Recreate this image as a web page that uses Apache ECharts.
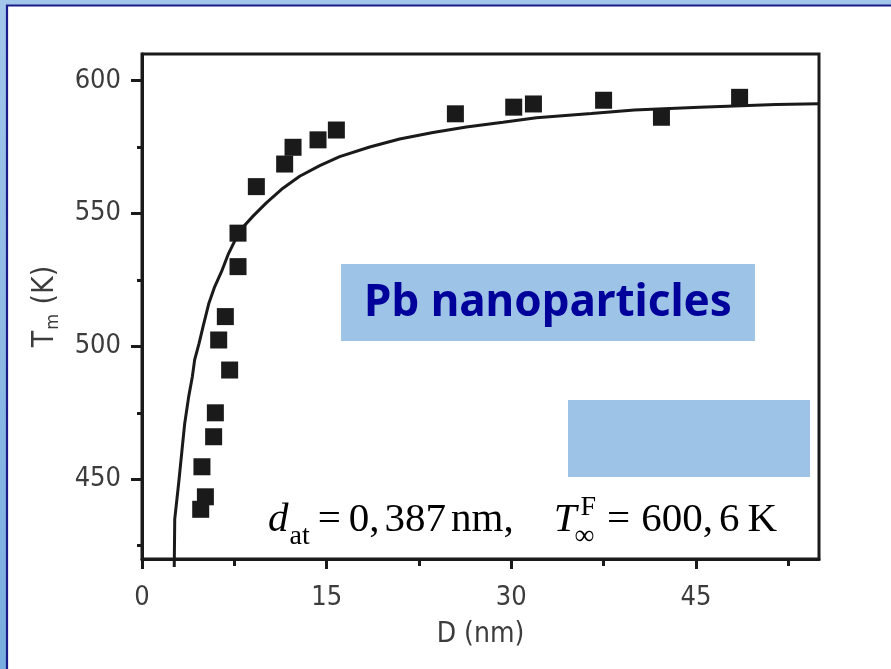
<!DOCTYPE html>
<html>
<head>
<meta charset="utf-8">
<script src="https://cdn.jsdelivr.net/npm/echarts@6/dist/echarts.min.js"></script>
<style>
  html, body { margin: 0; padding: 0; background: #ffffff; }
  #chart { width: 891px; height: 669px; }
</style>
</head>
<body>
<div id="chart"></div>
<script>
// Measured Pb particles: diameter D (nm) and melting temperature Tm (K)
const diameterNm = [4.77, 5.15, 4.87, 5.82, 5.96, 7.12, 6.23, 6.77, 7.8, 7.8, 9.29,
                    11.59, 12.27, 14.3, 15.79, 25.46, 30.2, 31.8, 37.5, 42.2, 48.55];
const meltingK   = [438.7, 443.4, 454.7, 466, 475, 491.1, 502.4, 511.2, 530, 542.6, 560.1,
                    568.6, 574.9, 577.7, 581.4, 587.5, 590, 591.2, 592.6, 586.2, 593.7];

// Fitted size-dependence curve
const fitDiameterNm = [2.62, 2.66, 2.98, 3.25, 3.47, 3.79, 4.09, 4.28, 4.63, 4.96, 5.42,
                       5.91, 6.45, 6.99, 7.94, 9.02, 10.1, 11.45, 12.81, 14.44, 16.06,
                       18.5, 20.93, 23.64, 26.35, 29.33, 32.04, 36.5, 40, 45.3, 51.5, 55];
const fitMeltingK   = [417, 435, 448.6, 461, 471, 481, 488.6, 495, 501, 507.4, 516,
                       522.5, 528, 534.5, 543.5, 549, 554, 559.5, 564, 568, 571.4,
                       575, 578, 580.5, 582.5, 584.3, 586, 587.6, 588.9, 590, 591, 591.3];

// Axis ticks
const xMajorTicks = [0, 15, 30, 45];
const xMinorTicks = [7.5, 22.5, 37.5, 52.5];
const yMajorTicks = [450, 500, 550, 600];
const yMinorTicks = [425, 475, 525, 575];

const titleText = 'Pb nanoparticles';

const INK = '#1a1a1a';
const LABEL = '#3c3c3c';
const NARROW = "'Liberation Sans Narrow', 'DejaVu Sans Condensed', 'Liberation Sans', Arial, sans-serif";
const SERIF = "'Liberation Serif', 'Times New Roman', serif";
const BOX = '#9dc3e6';

const chart = echarts.init(document.getElementById('chart'), null, { renderer: 'canvas' });

// --- formula text laid out run by run (sub/superscripts placed by hand) ---
const measureCtx = document.createElement('canvas').getContext('2d');
function textWidth(t, font) { measureCtx.font = font; return measureCtx.measureText(t).width; }

function formulaElements(startX, baseline) {
  const big = 41, small = 28;
  const runs = [
    { t: 'd', size: big, italic: true },
    { t: 'at', size: small, dy: 10, dx: 1 },
    { gap: 8 },
    { t: '=', size: big },
    { gap: 8 },
    { t: '0,', size: big },
    { gap: 5 },
    { t: '387', size: big },
    { gap: 5 },
    { t: 'nm,', size: big },
    { gap: 40 },
    { t: 'T', size: big, italic: true },
    { t: 'F', size: small, dy: -19, dx: 4, stackWith: '\u221e', stackDy: 10, stackDx: -2 },
    { gap: 11 },
    { t: '=', size: big },
    { gap: 11 },
    { t: '600,', size: big },
    { gap: 6 },
    { t: '6', size: big },
    { gap: 8 },
    { t: 'K', size: big }
  ];
  const els = [];
  let x = startX;
  runs.forEach(r => {
    if (r.gap) { x += r.gap; return; }
    const font = (r.italic ? 'italic ' : '') + r.size + 'px ' + SERIF;
    const w = textWidth(r.t, font);
    const mk = (txt, dy, xx) => ({
      type: 'text', z: 50, x: xx, y: baseline + (dy || 0),
      style: { text: txt, font: font, fill: '#000000', textAlign: 'left', textVerticalAlign: 'bottom' }
    });
    const dx = r.dx || 0;
    els.push(mk(r.t, r.dy, x + dx));
    let adv = w + dx;
    if (r.stackWith) {
      const sdx = r.stackDx || 0;
      const w2 = textWidth(r.stackWith, font);
      els.push(mk(r.stackWith, r.stackDy, x + sdx));
      adv = Math.max(w + dx, w2 + sdx);
    }
    x += adv;
  });
  return els;
}

const option = {
  backgroundColor: {
    type: 'linear', x: 0, y: 0, x2: 0, y2: 1,
    colorStops: [{ offset: 0, color: '#a3c7ea' }, { offset: 1, color: '#79addf' }]
  },
  animation: false,
  grid: {
    left: 142, top: 54, right: 72, bottom: 110,
    show: true, borderColor: INK, borderWidth: 3, backgroundColor: 'transparent'
  },
  xAxis: [
    {
      type: 'value', min: 0, max: 55,
      name: 'D (nm)', nameLocation: 'middle', nameGap: 62,
      nameTextStyle: { fontFamily: NARROW, fontSize: 28, color: LABEL },
      axisLine: { show: true, lineStyle: { color: INK, width: 3 } },
      axisTick: { show: true, inside: false, length: 10, customValues: xMajorTicks,
                  lineStyle: { color: INK, width: 3 } },
      axisLabel: { show: true, customValues: xMajorTicks, margin: 25,
                   fontFamily: NARROW, fontSize: 27, color: LABEL },
      splitLine: { show: false }
    },
    {
      type: 'value', min: 0, max: 55, position: 'bottom',
      axisLine: { show: false },
      axisTick: { show: true, inside: false, length: 7, customValues: xMinorTicks,
                  lineStyle: { color: INK, width: 3 } },
      axisLabel: { show: false },
      splitLine: { show: false }
    }
  ],
  yAxis: [
    {
      type: 'value', min: 420, max: 610,
      name: '{t|T}{s|m}{t| (K)}', nameLocation: 'middle', nameRotate: 90, nameGap: 80,
      nameTextStyle: {
        rich: {
          t: { fontFamily: NARROW, fontSize: 30, color: LABEL, lineHeight: 34, verticalAlign: 'middle' },
          s: { fontFamily: NARROW, fontSize: 18, color: LABEL, lineHeight: 34, verticalAlign: 'bottom', padding: [0, 1, 0, 1] }
        }
      },
      axisLine: { show: true, lineStyle: { color: INK, width: 3 } },
      axisTick: { show: true, inside: false, length: 11, customValues: yMajorTicks,
                  lineStyle: { color: INK, width: 3 } },
      axisLabel: { show: true, customValues: yMajorTicks, margin: 21,
                   fontFamily: NARROW, fontSize: 27, color: LABEL },
      splitLine: { show: false }
    },
    {
      type: 'value', min: 420, max: 610, position: 'left',
      axisLine: { show: false },
      axisTick: { show: true, inside: false, length: 5, customValues: yMinorTicks,
                  lineStyle: { color: INK, width: 3 } },
      axisLabel: { show: false },
      splitLine: { show: false }
    }
  ],
  series: [
    {
      name: 'fit', type: 'line', xAxisIndex: 0, yAxisIndex: 0,
      data: fitDiameterNm.map((d, i) => [d, fitMeltingK[i]]),
      showSymbol: false, clip: false, z: 3,
      lineStyle: { color: INK, width: 3 }
    },
    {
      name: 'Tm', type: 'scatter', xAxisIndex: 0, yAxisIndex: 0,
      data: diameterNm.map((d, i) => [d, meltingK[i]]),
      symbol: 'rect', symbolSize: 17, z: 4,
      itemStyle: { color: INK, opacity: 1 }
    }
  ],
  graphic: [
    // white slide panel with navy frame
    { type: 'rect', z: -100, shape: { x: 7, y: 5.5, width: 900, height: 700 },
      style: { fill: '#ffffff', stroke: '#1b1b8a', lineWidth: 2.2 } },
    // title box
    { type: 'rect', z: 40, shape: { x: 341, y: 264, width: 414, height: 77 }, style: { fill: BOX } },
    { type: 'text', z: 41, x: 548, y: 303,
      style: { text: titleText, font: "bold 44px 'Noto Sans', 'DejaVu Sans', sans-serif",
               fill: '#00009a', textAlign: 'center', textVerticalAlign: 'middle' } },
    // second box
    { type: 'rect', z: 40, shape: { x: 568, y: 400, width: 242, height: 77 }, style: { fill: BOX } }
  ].concat(formulaElements(268, 541))
};

chart.setOption(option);
</script>
</body>
</html>
